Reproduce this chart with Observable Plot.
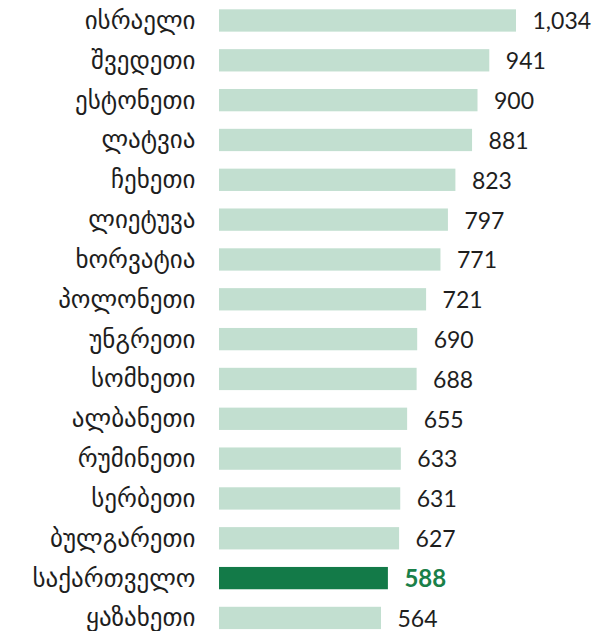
<!DOCTYPE html>
<html>
<head>
<meta charset="utf-8">
<script src="https://cdn.jsdelivr.net/npm/d3@7"></script>
<script src="https://cdn.jsdelivr.net/npm/@observablehq/plot@0.6"></script>
<style>
  html, body { margin: 0; padding: 0; background: #fff; overflow: hidden; }
  svg { display: block; }
</style>
</head>
<body>
<div id="chart"></div>
<script>
const countries = ["ისრაელი","შვედეთი","ესტონეთი","ლატვია","ჩეხეთი","ლიეტუვა","ხორვატია","პოლონეთი","უნგრეთი","სომხეთი","ალბანეთი","რუმინეთი","სერბეთი","ბულგარეთი","საქართველო","ყაზახეთი"];
const values = [1034,941,900,881,823,797,771,721,690,688,655,633,631,627,588,564];
const highlight = "საქართველო";

const data = countries.map((c, i) => ({country: c, value: values[i], hl: c === highlight}));
const fmt = d3.format(",");

const chart = Plot.plot({
  width: 608,
  height: 631,
  marginTop: 0,
  marginBottom: 0,
  marginLeft: 219,
  marginRight: 92,
  style: {fontFamily: "Lato, 'DejaVu Sans', sans-serif", fontSize: "23px", color: "#222", background: "#fff"},
  x: {domain: [0, 1034], axis: null},
  y: {domain: countries, paddingInner: 0.44, paddingOuter: 0.141, align: 0.83, round: false, label: null, tickSize: 0, tickPadding: 24},
  marks: [
    Plot.barX(data, {y: "country", x: "value", fill: d => d.hl ? "#137a48" : "#c2dfd0"}),
    Plot.ruleX([0], {stroke: "#dcdcdc", strokeWidth: 1.5, y1: 0, y2: 631}),
    Plot.text(data.filter(d => !d.hl), {y: "country", x: "value", text: d => fmt(d.value), dx: 16, dy: 1, textAnchor: "start", fill: "#1e1e1e", fontSize: 23}),
    Plot.text(data.filter(d => d.hl), {y: "country", x: "value", text: d => fmt(d.value), dx: 16, dy: 1, textAnchor: "start", fill: "#1a8049", fontWeight: "bold", fontSize: 24}),
    Plot.axisY({tickSize: 0, tickPadding: 24, fontSize: 25, fill: "#1e1e1e", label: null, fontFamily: "'DejaVu Sans', sans-serif"})
  ]
});
document.getElementById("chart").appendChild(chart);
</script>
</body>
</html>
